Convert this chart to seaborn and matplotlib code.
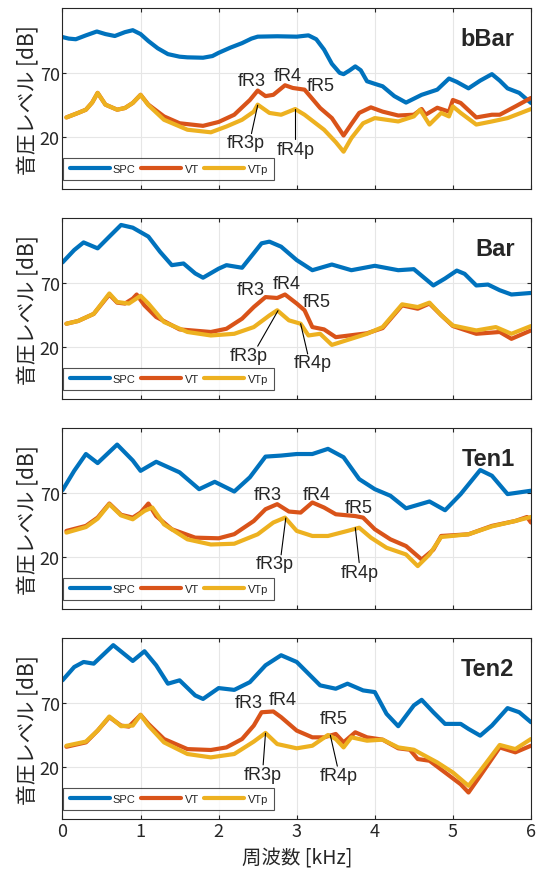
import numpy as np
import pandas as pd
import matplotlib
matplotlib.use("Agg")
import matplotlib.pyplot as plt
import seaborn as sns

# ---- data (freq in kHz, level in dB) ----
bbar_spc = [(0, 97.7), (0.08, 96.5), (0.17, 96), (0.3, 99), (0.44, 102), (0.55, 100), (0.67, 98.5),
            (0.8, 101.5), (0.9, 103), (1.0, 100), (1.1, 94.6), (1.22, 89), (1.35, 84.5), (1.5, 82.5),
            (1.6, 82), (1.8, 81.7), (1.92, 83), (2.0, 85.5), (2.15, 89.5), (2.3, 93), (2.42, 96.5),
            (2.5, 98), (2.75, 98.3), (3.0, 98), (3.15, 99), (3.25, 96), (3.35, 88), (3.45, 77),
            (3.55, 70), (3.6, 69), (3.68, 72), (3.75, 75), (3.82, 72), (3.9, 63.5), (4.0, 61.5),
            (4.1, 59.6), (4.25, 52), (4.4, 47), (4.6, 53), (4.8, 57), (4.95, 65.6), (5.05, 63),
            (5.2, 58), (5.35, 64), (5.5, 69), (5.6, 64), (5.7, 58), (5.85, 54.5), (6.0, 46.7)]
bbar_vt = [(0.05, 35.5), (0.2, 39), (0.3, 41.5), (0.38, 47), (0.45, 54.5), (0.55, 45.4), (0.7, 41.5),
           (0.8, 42.8), (0.9, 46.7), (1.0, 53), (1.1, 45.4), (1.3, 36.3), (1.5, 31), (1.8, 29),
           (2.0, 32), (2.2, 37.6), (2.4, 49), (2.5, 56.3), (2.6, 52), (2.7, 53), (2.85, 60.4),
           (2.95, 58.3), (3.1, 57), (3.3, 42.8), (3.45, 35), (3.6, 21.5), (3.7, 30.4), (3.8, 39),
           (3.95, 43.3), (4.1, 40), (4.3, 37), (4.5, 37.6), (4.6, 42), (4.65, 37.6), (4.8, 43),
           (4.95, 40), (5.0, 49), (5.1, 46.7), (5.3, 35.5), (5.5, 37.6), (5.6, 37.6), (5.8, 44),
           (6.0, 50.6)]
bbar_vtp = [(0.05, 35.5), (0.2, 39), (0.3, 41.5), (0.38, 47), (0.45, 54.5), (0.55, 45.4), (0.7, 41.5),
            (0.8, 42.8), (0.9, 46.7), (1.0, 53), (1.1, 45), (1.3, 33.7), (1.6, 26), (1.9, 24),
            (2.1, 28.5), (2.3, 33.7), (2.45, 40), (2.5, 45.4), (2.65, 39), (2.8, 37.6), (2.98, 42),
            (3.1, 37.6), (3.35, 26), (3.5, 16.4), (3.6, 9), (3.7, 19.5), (3.85, 31), (4.0, 35),
            (4.3, 32.4), (4.5, 36.3), (4.58, 41.5), (4.7, 30), (4.85, 39), (4.95, 36.3), (5.0, 44),
            (5.1, 39), (5.3, 30), (5.5, 32.4), (5.7, 35), (6.0, 42)]

bar_spc = [(0, 85.8), (0.15, 95.4), (0.27, 101.3), (0.45, 96.7), (0.6, 105.8), (0.75, 114.8),
           (0.9, 112.7), (1.1, 105.8), (1.25, 94), (1.4, 83.7), (1.55, 85), (1.7, 77.3), (1.8, 74),
           (2.0, 81), (2.1, 83.7), (2.3, 81.7), (2.45, 93), (2.55, 100.6), (2.65, 101.9), (2.8, 98),
           (3.0, 87.6), (3.2, 79.8), (3.45, 84.2), (3.7, 79.8), (4.0, 83.2), (4.3, 79.8), (4.5, 80.6),
           (4.75, 68), (4.9, 73.4), (5.05, 79.5), (5.15, 77), (5.3, 68), (5.45, 68.7), (5.6, 64.3),
           (5.75, 61), (6.0, 62.2)]
bar_vt = [(0.05, 38.4), (0.2, 40.5), (0.4, 46), (0.6, 61), (0.7, 54.7), (0.8, 54), (0.9, 57.8),
          (0.95, 61), (1.05, 52.6), (1.2, 43.6), (1.5, 34), (1.9, 32), (2.1, 34.5), (2.3, 42.3),
          (2.45, 51.3), (2.6, 59), (2.75, 58.3), (2.85, 61), (3.0, 54), (3.1, 48.8), (3.2, 35.8),
          (3.35, 34), (3.5, 28), (3.9, 31), (4.1, 35), (4.35, 52.6), (4.55, 50), (4.7, 54),
          (4.85, 45), (5.0, 36.6), (5.3, 30.6), (5.6, 32), (5.75, 26.7), (6.0, 33.2)]
bar_vtp = [(0.05, 38.4), (0.2, 40.5), (0.4, 46), (0.6, 61.8), (0.7, 55.2), (0.85, 54), (1.0, 60),
           (1.1, 54), (1.3, 39.7), (1.6, 32), (1.9, 29.3), (2.2, 30.6), (2.45, 35.8), (2.65, 44.8),
           (2.75, 48.8), (2.9, 41), (3.05, 38.4), (3.15, 29.3), (3.3, 30.6), (3.45, 22), (3.9, 30.6),
           (4.1, 35.8), (4.35, 53.4), (4.55, 51.3), (4.7, 54.7), (4.85, 45), (5.0, 37), (5.3, 33.2),
           (5.55, 35.8), (5.75, 30.6), (6.0, 36.6)]

ten1_spc = [(0, 72), (0.15, 87), (0.3, 100), (0.45, 93), (0.7, 107.3), (0.9, 95), (1.0, 87),
            (1.2, 94), (1.5, 85.8), (1.75, 72.8), (1.95, 78.5), (2.2, 71), (2.4, 82), (2.6, 98),
            (2.8, 98.8), (3.0, 100), (3.2, 100), (3.4, 104), (3.6, 97.5), (3.8, 80.6), (4.0, 72.8),
            (4.2, 67.7), (4.4, 58), (4.7, 63.3), (4.9, 56.5), (5.1, 69), (5.35, 87.6), (5.5, 83.2),
            (5.7, 69), (6.0, 71.6)]
ten1_vt = [(0.05, 40.5), (0.3, 44.4), (0.45, 50.8), (0.6, 61.7), (0.75, 53), (0.9, 50.8), (1.0, 54.7),
           (1.1, 61.7), (1.2, 52), (1.4, 41.8), (1.7, 35.3), (2.0, 34.8), (2.2, 38), (2.45, 48.2),
           (2.6, 57.3), (2.75, 61.2), (2.9, 55.5), (3.05, 54.7), (3.2, 62.5), (3.35, 58.6),
           (3.5, 53.4), (3.75, 52), (3.85, 50.8), (4.0, 41.8), (4.2, 34), (4.4, 28.8), (4.6, 18.4),
           (4.75, 26), (4.85, 36.6), (5.2, 37.9), (5.5, 44.4), (5.8, 48.2), (5.95, 51.3), (6.0, 47)]
ten1_vtp = [(0.05, 39.2), (0.3, 43.5), (0.45, 50), (0.6, 61.2), (0.75, 52.5), (0.9, 49.5),
            (1.05, 56), (1.15, 58.6), (1.3, 45.6), (1.6, 34), (1.9, 30), (2.2, 30.6), (2.5, 37.9),
            (2.7, 47), (2.85, 50.8), (3.0, 40.5), (3.2, 36.6), (3.4, 36.6), (3.65, 40.5), (3.8, 43),
            (3.95, 35.3), (4.15, 27.5), (4.4, 22.3), (4.55, 13.3), (4.7, 22.3), (4.85, 35.8),
            (5.2, 37.9), (5.5, 44), (5.8, 48.2), (6.0, 51.3)]

ten2_spc = [(0, 87.4), (0.15, 97.7), (0.27, 101.6), (0.4, 100.3), (0.65, 114.6), (0.9, 102.4),
            (1.05, 109.9), (1.2, 99), (1.35, 84.8), (1.5, 87.4), (1.7, 75.7), (1.8, 73), (2.0, 81.4),
            (2.2, 80), (2.4, 86), (2.6, 99), (2.8, 106.8), (3.0, 101.6), (3.3, 83.5), (3.5, 80.9),
            (3.65, 84.8), (3.85, 79.6), (4.0, 78.3), (4.15, 61.5), (4.3, 51.9), (4.5, 68), (4.6, 72.3),
            (4.75, 62.7), (4.9, 53.7), (5.1, 53.7), (5.2, 49.8), (5.35, 44.6), (5.5, 52.4),
            (5.7, 65.9), (5.85, 62.7), (6.0, 55)]
ten2_vt = [(0.05, 36), (0.3, 39.4), (0.45, 48.5), (0.6, 58.9), (0.75, 52.4), (0.85, 51.6),
           (0.95, 57.6), (1.0, 60.7), (1.1, 53.7), (1.3, 42), (1.6, 34.2), (1.9, 33.5), (2.1, 35.5),
           (2.3, 42), (2.45, 52.4), (2.55, 62.7), (2.7, 63.3), (2.8, 58.9), (3.0, 48.5), (3.2, 43.3),
           (3.35, 43.3), (3.5, 45.9), (3.6, 39.4), (3.75, 47.2), (3.9, 43.3), (4.1, 41.5),
           (4.3, 34.8), (4.45, 33.7), (4.55, 26.5), (4.7, 25.2), (4.9, 16.1), (5.1, 7), (5.2, 0.6),
           (5.35, 13.5), (5.6, 35.5), (5.8, 31.7), (6.0, 36.8)]
ten2_vtp = [(0.05, 36.8), (0.3, 40), (0.45, 48.5), (0.6, 59.4), (0.75, 51.9), (0.9, 52.4),
            (1.0, 60.7), (1.1, 52.4), (1.3, 39.4), (1.6, 30.4), (1.9, 27.8), (2.2, 30.4), (2.45, 40),
            (2.6, 46.7), (2.75, 38.1), (3.0, 34.8), (3.2, 36.8), (3.4, 45.1), (3.5, 42), (3.6, 35.5),
            (3.7, 43.3), (3.9, 40.7), (4.1, 41.5), (4.3, 35.5), (4.5, 33.7), (4.6, 30.4),
            (4.8, 23.9), (5.0, 16.1), (5.2, 5.8), (5.35, 17.4), (5.6, 37.4), (5.8, 34.2), (6.0, 42)]

panel_names = ["bBar", "Bar", "Ten1", "Ten2"]
series_names = ["SPC", "VT", "VTp"]
panel_data = [[bbar_spc, bbar_vt, bbar_vtp], [bar_spc, bar_vt, bar_vtp],
              [ten1_spc, ten1_vt, ten1_vtp], [ten2_spc, ten2_vt, ten2_vtp]]

# annotation labels: (text, text x, text y) and (text, x, y, line from, line to)
peak_labels = [
    [("fR3", 2.42, 64), ("fR4", 2.88, 68), ("fR5", 3.31, 60.5)],
    [("fR3", 2.41, 64.5), ("fR4", 2.87, 69.5), ("fR5", 3.26, 55.5)],
    [("fR3", 2.63, 68.5), ("fR4", 3.26, 68.5), ("fR5", 3.79, 59)],
    [("fR3", 2.38, 70), ("fR4", 2.82, 72.5), ("fR5", 3.48, 58)],
]
p_labels = [
    [("fR3p", 2.35, 16, (2.5, 45), (2.42, 23)), ("fR4p", 2.99, 11, (2.98, 42), (2.98, 19))],
    [("fR3p", 2.39, 14, (2.76, 48.5), (2.5, 21)), ("fR4p", 3.2, 8.5, (3.05, 38.4), (3.14, 15))],
    [("fR3p", 2.72, 15, (2.86, 50.5), (2.8, 22)), ("fR4p", 3.81, 8, (3.75, 43), (3.8, 16))],
    [("fR3p", 2.56, 14.5, (2.6, 46.5), (2.57, 22)), ("fR4p", 3.54, 13.5, (3.43, 45), (3.52, 21))],
]

colors = {"SPC": "#0072BD", "VT": "#D95319", "VTp": "#EDB120"}

sns.set_style("white")
plt.rcParams["font.family"] = ["Noto Sans CJK JP", "DejaVu Sans"]

fig = plt.figure(figsize=(5.36, 8.70), dpi=100)
bottoms = [0.7814, 0.540, 0.2987, 0.0573]

for i, name in enumerate(panel_names):
    ax = fig.add_axes([0.1166, bottoms[i], 0.874, 0.208])
    rows = []
    for s, pts in zip(series_names, panel_data[i]):
        for x, y in pts:
            rows.append({"freq": x, "level": y, "series": s})
    df = pd.DataFrame(rows)
    sns.lineplot(data=df, x="freq", y="level", hue="series", palette=colors,
                 hue_order=series_names, estimator=None, sort=False, lw=3.0, ax=ax)

    for txt, tx, ty in peak_labels[i]:
        ax.text(tx, ty, txt, ha="center", va="center", fontsize=13, family="Liberation Sans")
    for txt, tx, ty, p0, p1 in p_labels[i]:
        ax.plot([p0[0], p1[0]], [p0[1], p1[1]], color="black", lw=0.8)
        ax.text(tx, ty, txt, ha="center", va="center", fontsize=13, family="Liberation Sans")

    ax.text(0.965, 0.835, name, transform=ax.transAxes, ha="right", va="center",
            fontsize=17, fontweight="bold", family="Liberation Sans")

    ax.set_xlim(0, 6)
    ax.set_ylim(-20, 120)
    ax.set_xticks(range(7))
    ax.set_yticks([20, 70])
    ax.grid(True, color="#e6e6e6", lw=0.8)
    ax.tick_params(direction="in", length=3, labelsize=13, top=True, right=True,
                   bottom=True, left=True, color="#262626", pad=2)
    for sp in ax.spines.values():
        sp.set_color("#262626")
        sp.set_linewidth(0.8)
    ax.set_ylabel("音圧レベル [dB]", fontsize=15, labelpad=1)
    ax.set_xlabel("")
    if i < 3:
        ax.set_xticklabels([])

    leg = ax.legend(loc="lower left", bbox_to_anchor=(0.002, 0.05), ncol=3, fontsize=8,
                    frameon=True, fancybox=False, edgecolor="#262626", handlelength=3.6,
                    columnspacing=0.5, handletextpad=0.3, borderpad=0.55, borderaxespad=0)
    leg.get_frame().set_linewidth(0.8)
    for line in leg.get_lines():
        line.set_linewidth(3.0)
    for t in leg.get_texts():
        t.set_family("Liberation Sans")

fig.text(0.1166 + 0.874 / 2, 1 - 859 / 870, "周波数 [kHz]", ha="center", va="center", fontsize=14)

fig.savefig("out.png", dpi=100)
